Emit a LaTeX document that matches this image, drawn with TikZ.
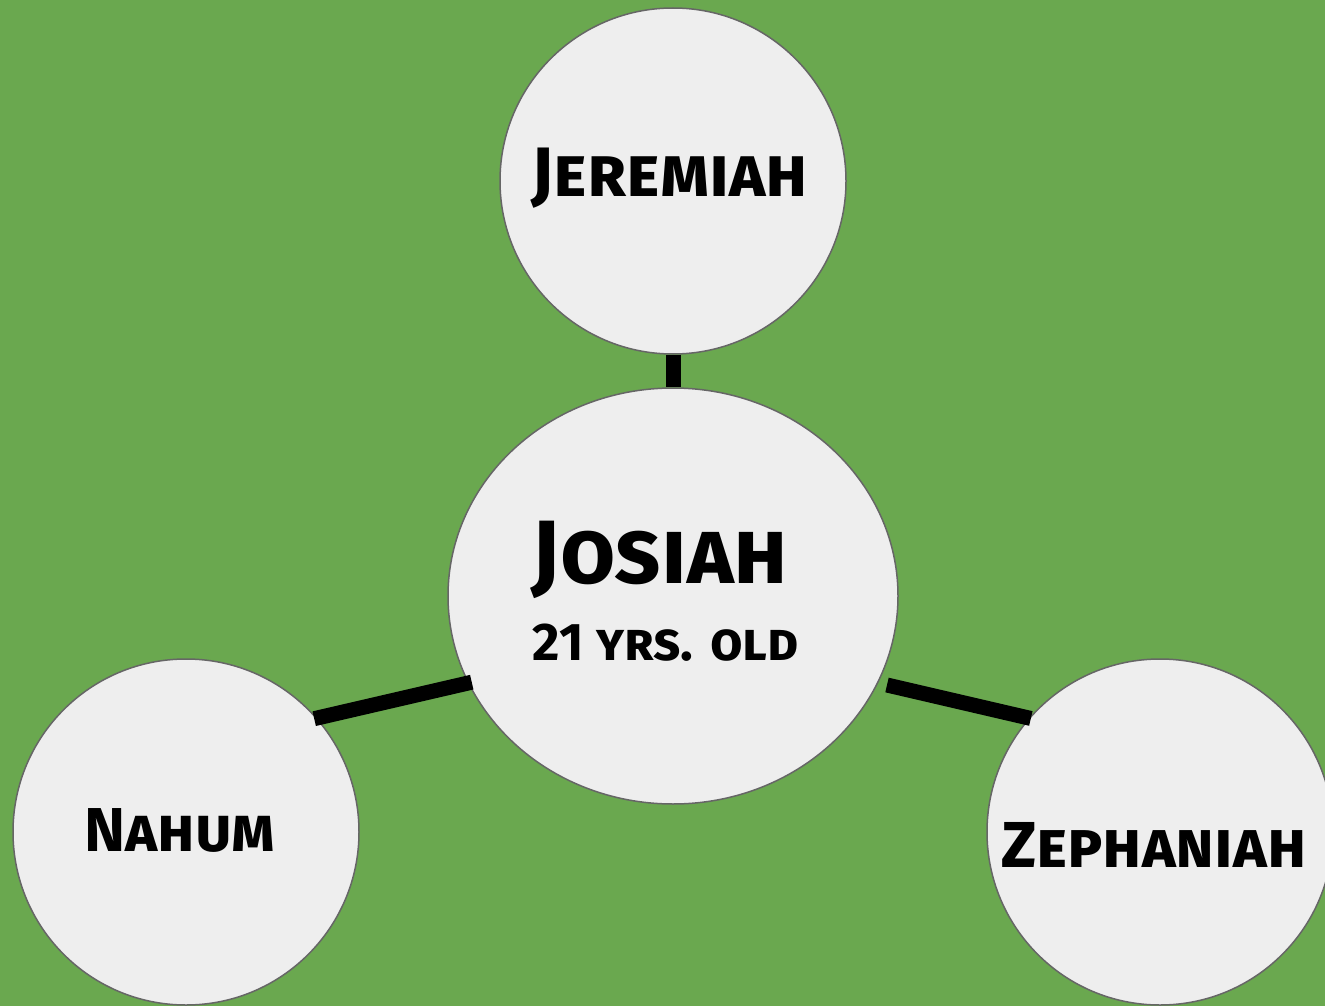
\documentclass[tikz,border=0pt]{standalone}
\usepackage{fontspec}
\setmainfont{Fira Sans}
\usepackage{xcolor}
\usepackage{tikz}
\usetikzlibrary{
    shapes.geometric,
    calc,
}
\definecolor{bggreen}{HTML}{6AA84F}
\definecolor{bubblefill}{HTML}{EEEEEE}
\definecolor{bubbleline}{HTML}{666666}
\tikzset{
    prophetmap/.style={
        x=1pt, y=-1pt,
        every node/.style={text=black, font=\bfseries\scshape, align=center},
        bubble/.style={circle, draw=bubbleline, line width=1.5pt, fill=bubblefill, minimum size=346pt, inner sep=0pt},
        kingbubble/.style={ellipse, draw=bubbleline, line width=1.5pt, fill=bubblefill, minimum width=450pt, minimum height=416pt, inner sep=0pt},
        link/.style={draw=black, line width=15pt},
    },
}

\begin{document}
\begin{tikzpicture}[prophetmap]
    \fill[bggreen] (0,0) rectangle (1325,1006);
    \useasboundingbox (0,0) rectangle (1325,1006);
    \clip (0,0) rectangle (1325,1006);
    % bubbles first, connectors on top
    \coordinate (jeremiahC) at (673,181);
    \coordinate (josiahC) at (673,596);
    \node[bubble] (jeremiah) at (jeremiahC) {};
    \node[kingbubble] (josiah) at (josiahC) {};
    \node[bubble] (nahum) at (186,832) {};
    \node[bubble] (zephaniah) at (1160,832) {};
    \coordinate (zephlink) at (887,685);
    \draw[link] (jeremiah.south) -- (josiah.north);
    \draw[link] ($(nahum.41)!-3pt!(josiah.203)$) -- ($(josiah.203)!-4pt!(nahum.41)$);
    \draw[link] (zephlink) -- ($(zephaniah.139)!-2pt!(zephlink)$);
    % labels
    \node[font=\fontsize{70}{74}\selectfont\bfseries\scshape] at (670,178) {Jeremiah};
    \node[font=\fontsize{90}{94}\selectfont\bfseries\scshape] at (660,560) {Josiah};
    \node[font=\fontsize{53}{57}\selectfont\bfseries\scshape] at (666,643) {21 yrs. old};
    \node[font=\fontsize{62}{66}\selectfont\bfseries\scshape] at (180,830) {Nahum};
    \node[font=\fontsize{65}{69}\selectfont\bfseries\scshape] at (1154,845) {Zephaniah};
\end{tikzpicture}
\end{document}
